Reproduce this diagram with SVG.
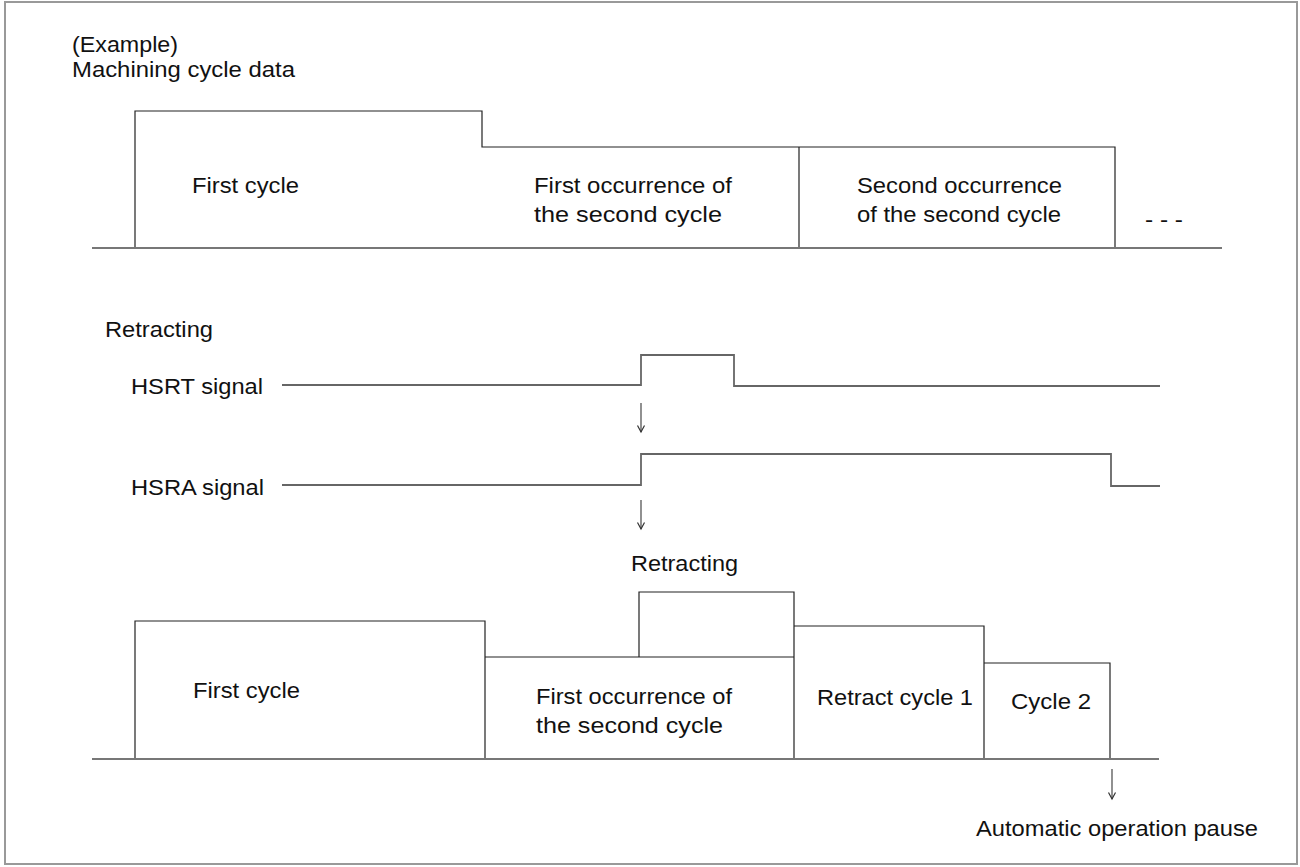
<svg xmlns="http://www.w3.org/2000/svg" width="1300" height="867" viewBox="0 0 1300 867">
<defs>
<marker id="ah" markerWidth="10" markerHeight="10" refX="8" refY="5" orient="auto" markerUnits="userSpaceOnUse" viewBox="0 0 10 10">
<path d="M1.5,1.5 L8,5 L1.5,8.5" fill="none" stroke="#333" stroke-width="1.2"/>
</marker>
</defs>
<style>
text{font-family:"Liberation Sans",Arial,sans-serif;font-size:22px;fill:#111}
.box{fill:none;stroke:#222;stroke-width:1.2}
.base{fill:none;stroke:#777;stroke-width:2.2}
.sig{fill:none;stroke:#666;stroke-width:1.8}
.arr{fill:none;stroke:#555;stroke-width:1.3;marker-end:url(#ah)}
</style>
<rect x="5" y="2" width="1292" height="862" fill="#fff" stroke="#999" stroke-width="2"/>
<g id="title">
<text x="72" y="52" textLength="106" lengthAdjust="spacingAndGlyphs">(Example)</text>
<text x="72" y="77" textLength="223" lengthAdjust="spacingAndGlyphs">Machining cycle data</text>
</g>
<g id="top-cycles">
<path class="box" d="M135,248 V111 H482 V147 H1115 V248 M799,147 V248"/>
<line class="base" x1="92" y1="248" x2="1222" y2="248"/>
<text x="192" y="193" textLength="107" lengthAdjust="spacingAndGlyphs">First cycle</text>
<text x="534" y="193" textLength="198" lengthAdjust="spacingAndGlyphs">First occurrence of</text>
<text x="534" y="222" textLength="188" lengthAdjust="spacingAndGlyphs">the second cycle</text>
<text x="857" y="193" textLength="205" lengthAdjust="spacingAndGlyphs">Second occurrence</text>
<text x="857" y="222" textLength="204" lengthAdjust="spacingAndGlyphs">of the second cycle</text>
<text x="1145" y="227" textLength="38" lengthAdjust="spacingAndGlyphs">- - -</text>
</g>
<g id="signals">
<text x="105" y="337" textLength="108" lengthAdjust="spacingAndGlyphs">Retracting</text>
<text x="131" y="394" textLength="132" lengthAdjust="spacingAndGlyphs">HSRT signal</text>
<path class="sig" d="M282,385 H641 V355 H734 V386 H1160"/>
<text x="131" y="495" textLength="133" lengthAdjust="spacingAndGlyphs">HSRA signal</text>
<path class="sig" d="M282,485 H641 V454 H1111 V486 H1160"/>
</g>
<g id="bottom-cycles">
<text x="631" y="571" textLength="107" lengthAdjust="spacingAndGlyphs">Retracting</text>
<path class="box" d="M135,759 V621 H485 V657 H794 M639,657 V592 H794 V759 M485,657 V759 M794,626 H984 V759 M984,663 H1110 V759"/>
<line class="base" x1="92" y1="759" x2="1159" y2="759"/>
<text x="193" y="698" textLength="107" lengthAdjust="spacingAndGlyphs">First cycle</text>
<text x="536" y="704" textLength="196" lengthAdjust="spacingAndGlyphs">First occurrence of</text>
<text x="536" y="733" textLength="187" lengthAdjust="spacingAndGlyphs">the second cycle</text>
<text x="817" y="705" textLength="156" lengthAdjust="spacingAndGlyphs">Retract cycle 1</text>
<text x="1011" y="709" textLength="80" lengthAdjust="spacingAndGlyphs">Cycle 2</text>
<text x="976" y="836" textLength="282" lengthAdjust="spacingAndGlyphs">Automatic operation pause</text>
</g>
<g id="connectors">
<line class="arr" x1="641" y1="403" x2="641" y2="432"/>
<line class="arr" x1="641" y1="500" x2="641" y2="529"/>
<line class="arr" x1="1112" y1="769" x2="1112" y2="799"/>
</g>
</svg>
